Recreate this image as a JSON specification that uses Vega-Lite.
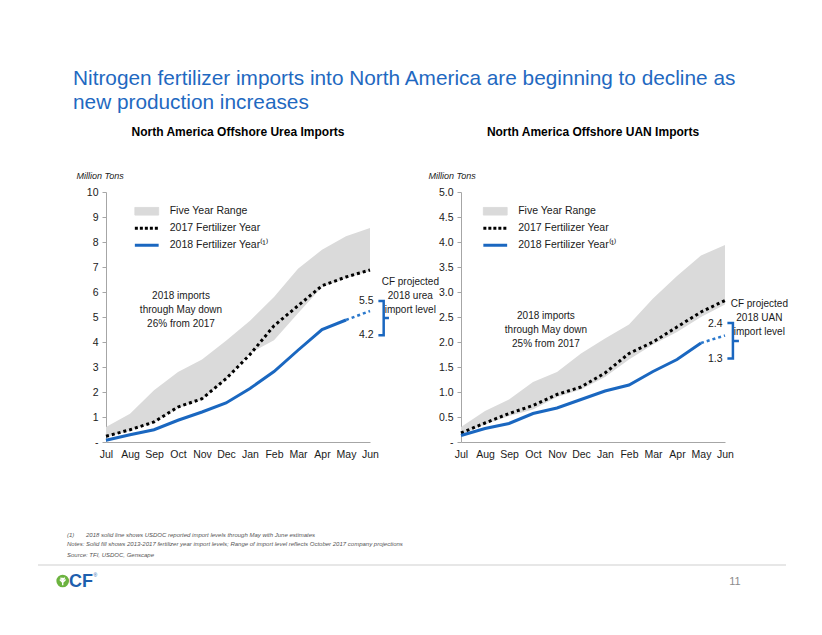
{
  "$schema": "https://vega.github.io/schema/vega-lite/v6.json",
  "background": "white",
  "padding": {"left": 37, "top": 68, "right": 5, "bottom": 5},
  "config": {
    "font": "Liberation Sans, sans-serif",
    "view": {"stroke": null},
    "axis": {"grid": false, "domainColor": "#a6a6a6", "tickColor": "#a6a6a6", "labelColor": "#1a1a1a", "labelFontSize": 10.5}
  },
  "title": {
    "text": ["Nitrogen fertilizer imports into North America are beginning to decline as", "new production increases"],
    "anchor": "start", "frame": "group", "dx": -33, "offset": 12,
    "font": "Liberation Sans, sans-serif", "fontSize": 20.8, "fontWeight": "normal", "color": "#1f69c1", "lineHeight": 24
  },
  "columns": 2,
  "spacing": {"row": 83, "column": 91},
  "bounds": "flush",
  "resolve": {"scale": {"x": "independent", "y": "independent", "color": "independent"}, "legend": {"color": "independent"}},
  "concat": [
    {
      "width": 264, "height": 250,
      "title": {"text": "North America Offshore Urea Imports", "frame": "group", "anchor": "middle", "offset": 32, "fontSize": 12, "fontWeight": "bold", "color": "#000000"},
      "encoding": {
        "x": {"field": "m", "type": "quantitative", "scale": {"domain": [0, 11], "nice": false, "zero": false},
          "axis": {"values": [0,1,2,3,4,5,6,7,8,9,10,11], "labelExpr": "['Jul','Aug','Sep','Oct','Nov','Dec','Jan','Feb','Mar','Apr','May','Jun'][datum.value]", "ticks": false, "labelPadding": 7, "title": null, "labelFlush": false, "labelOverlap": false}},
        "y": {"field": "v", "type": "quantitative", "scale": {"domain": [0, 10], "nice": false},
          "axis": {"values": [0,1,2,3,4,5,6,7,8,9,10], "labelExpr": "datum.value == 0 ? '-' : datum.label", "tickSize": 4, "labelPadding": 4, "title": "Million Tons", "titleAngle": 0, "titleAlign": "left", "titleBaseline": "middle", "titleX": -30, "titleY": -17, "titleFontSize": 9, "titleFontStyle": "italic", "titleFontWeight": "normal", "titleColor": "#1a1a1a"}}
      },
      "layer": [
        {
          "data": {"values": [
            {"m": 0, "v": 0.6, "lo": 0.2}, {"m": 1, "v": 1.13, "lo": 0.45}, {"m": 2, "v": 2.07, "lo": 0.78},
            {"m": 3, "v": 2.8, "lo": 1.35}, {"m": 4, "v": 3.3, "lo": 1.7}, {"m": 5, "v": 4.05, "lo": 2.5},
            {"m": 6, "v": 4.85, "lo": 3.55}, {"m": 7, "v": 5.8, "lo": 4.07}, {"m": 8, "v": 6.93, "lo": 5.15},
            {"m": 9, "v": 7.69, "lo": 6.2}, {"m": 10, "v": 8.23, "lo": 6.55}, {"m": 11, "v": 8.56, "lo": 6.85}
          ]},
          "mark": {"type": "area"},
          "encoding": {
            "y2": {"field": "lo"},
            "color": {"datum": "Five Year Range", "type": "nominal",
              "scale": {"domain": ["Five Year Range", "2017 Fertilizer Year", "2018 Fertilizer Year⁽¹⁾"], "range": ["#dadada", "#000000", "#1a67c0"]},
              "legend": {"orient": "none", "legendX": 35.5, "legendY": 14, "title": null, "padding": 0, "rowPadding": 4, "symbolSize": 289, "labelOffset": 17.7, "labelFontSize": 10.5, "labelColor": "#1a1a1a",
                "symbolType": "M-1.4,0H1.4",
                "encode": {"symbols": {"update": {
                  "shape": {"signal": "datum.value == 'Five Year Range' ? 'M-1.4,-0.45H1.4V0.45H-1.4Z' : 'M-1.4,0H1.4'"},
                  "fill": {"signal": "datum.value == 'Five Year Range' ? '#dadada' : 'transparent'"},
                  "stroke": {"signal": "datum.value == 'Five Year Range' ? '#9a9a9a' : datum.value == '2017 Fertilizer Year' ? '#000000' : '#1a67c0'"},
                  "strokeWidth": {"signal": "datum.value == 'Five Year Range' ? 1 : 3"},
                  "strokeDash": {"signal": "datum.value == '2017 Fertilizer Year' ? [3, 2] : [1, 0]"},
                  "opacity": {"value": 1}
                }}}}
            }
          }
        },
        {
          "data": {"values": [
            {"m": 0, "v": 0.23}, {"m": 1, "v": 0.49}, {"m": 2, "v": 0.8}, {"m": 3, "v": 1.4}, {"m": 4, "v": 1.73}, {"m": 5, "v": 2.53},
            {"m": 6, "v": 3.5}, {"m": 7, "v": 4.65}, {"m": 8, "v": 5.45}, {"m": 9, "v": 6.25}, {"m": 10, "v": 6.6}, {"m": 11, "v": 6.88}
          ]},
          "mark": {"type": "line", "strokeWidth": 3, "strokeDash": [3, 3]},
          "encoding": {"color": {"datum": "2017 Fertilizer Year", "type": "nominal"}}
        },
        {
          "data": {"values": [
            {"m": 0, "v": 0.07}, {"m": 1, "v": 0.29}, {"m": 2, "v": 0.49}, {"m": 3, "v": 0.87}, {"m": 4, "v": 1.2}, {"m": 5, "v": 1.56},
            {"m": 6, "v": 2.14}, {"m": 7, "v": 2.82}, {"m": 8, "v": 3.67}, {"m": 9, "v": 4.5}, {"m": 10, "v": 4.88}
          ]},
          "mark": {"type": "line", "strokeWidth": 3},
          "encoding": {"color": {"datum": "2018 Fertilizer Year⁽¹⁾", "type": "nominal"}}
        },
        {
          "data": {"values": [{"m": 10, "v": 4.88}, {"m": 11, "v": 5.24}]},
          "mark": {"type": "line", "strokeWidth": 2.5, "strokeDash": [3, 3], "color": "#2a78cc"},
          "encoding": {}
        },
        {
          "data": {"values": [
            {"m": 11.35, "v": 5.64, "o": 1}, {"m": 11.57, "v": 5.64, "o": 2}, {"m": 11.57, "v": 4.96, "o": 3},
            {"m": 11.79, "v": 4.96, "o": 4}, {"m": 11.57, "v": 4.96, "o": 5}, {"m": 11.57, "v": 4.27, "o": 6}, {"m": 11.35, "v": 4.27, "o": 7}
          ]},
          "mark": {"type": "line", "strokeWidth": 2.5, "color": "#1a67c0", "strokeJoin": "miter"},
          "encoding": {"order": {"field": "o", "type": "quantitative"}}
        },
        {
          "data": {"values": [{"m": 11.15, "v": 5.64, "t": "5.5"}, {"m": 11.15, "v": 4.27, "t": "4.2"}]},
          "mark": {"type": "text", "align": "right", "baseline": "middle", "fontSize": 10.5, "color": "#1a1a1a"},
          "encoding": {"text": {"field": "t"}}
        },
        {
          "data": {"values": [
            {"m": 3.125, "v": 6.05, "t": "2018 imports\nthrough May down\n26% from 2017"},
            {"m": 12.68, "v": 6.6, "t": "CF projected\n2018 urea\nimport level"}
          ]},
          "mark": {"type": "text", "align": "center", "baseline": "top", "fontSize": 10, "lineHeight": 14, "lineBreak": "\n", "color": "#1a1a1a"},
          "encoding": {"text": {"field": "t"}}
        }
      ]
    },
    {
      "width": 264, "height": 250,
      "title": {"text": "North America Offshore UAN Imports", "frame": "group", "anchor": "middle", "offset": 32, "fontSize": 12, "fontWeight": "bold", "color": "#000000"},
      "encoding": {
        "x": {"field": "m", "type": "quantitative", "scale": {"domain": [0, 11], "nice": false, "zero": false},
          "axis": {"values": [0,1,2,3,4,5,6,7,8,9,10,11], "labelExpr": "['Jul','Aug','Sep','Oct','Nov','Dec','Jan','Feb','Mar','Apr','May','Jun'][datum.value]", "ticks": false, "labelPadding": 7, "title": null, "labelFlush": false, "labelOverlap": false}},
        "y": {"field": "v", "type": "quantitative", "scale": {"domain": [0, 5], "nice": false},
          "axis": {"values": [0,0.5,1,1.5,2,2.5,3,3.5,4,4.5,5], "format": ".1f", "labelExpr": "datum.value == 0 ? '-' : datum.label", "tickSize": 4, "labelPadding": 4, "title": "Million Tons", "titleAngle": 0, "titleAlign": "left", "titleBaseline": "middle", "titleX": -33, "titleY": -17, "titleFontSize": 9, "titleFontStyle": "italic", "titleFontWeight": "normal", "titleColor": "#1a1a1a"}}
      },
      "layer": [
        {
          "data": {"values": [
            {"m": 0, "v": 0.3, "lo": 0.15}, {"m": 1, "v": 0.62, "lo": 0.35}, {"m": 2, "v": 0.85, "lo": 0.52},
            {"m": 3, "v": 1.2, "lo": 0.65}, {"m": 4, "v": 1.4, "lo": 0.9}, {"m": 5, "v": 1.77, "lo": 1.05},
            {"m": 6, "v": 2.07, "lo": 1.3}, {"m": 7, "v": 2.35, "lo": 1.65}, {"m": 8, "v": 2.87, "lo": 1.95},
            {"m": 9, "v": 3.32, "lo": 2.2}, {"m": 10, "v": 3.73, "lo": 2.5}, {"m": 11, "v": 3.94, "lo": 2.75}
          ]},
          "mark": {"type": "area"},
          "encoding": {
            "y2": {"field": "lo"},
            "color": {"datum": "Five Year Range", "type": "nominal",
              "scale": {"domain": ["Five Year Range", "2017 Fertilizer Year", "2018 Fertilizer Year⁽¹⁾"], "range": ["#dadada", "#000000", "#1a67c0"]},
              "legend": {"orient": "none", "legendX": 29, "legendY": 14, "title": null, "padding": 0, "rowPadding": 4, "symbolSize": 289, "labelOffset": 17.7, "labelFontSize": 10.5, "labelColor": "#1a1a1a",
                "symbolType": "M-1.4,0H1.4",
                "encode": {"symbols": {"update": {
                  "shape": {"signal": "datum.value == 'Five Year Range' ? 'M-1.4,-0.45H1.4V0.45H-1.4Z' : 'M-1.4,0H1.4'"},
                  "fill": {"signal": "datum.value == 'Five Year Range' ? '#dadada' : 'transparent'"},
                  "stroke": {"signal": "datum.value == 'Five Year Range' ? '#9a9a9a' : datum.value == '2017 Fertilizer Year' ? '#000000' : '#1a67c0'"},
                  "strokeWidth": {"signal": "datum.value == 'Five Year Range' ? 1 : 3"},
                  "strokeDash": {"signal": "datum.value == '2017 Fertilizer Year' ? [3, 2] : [1, 0]"},
                  "opacity": {"value": 1}
                }}}}
            }
          }
        },
        {
          "data": {"values": [
            {"m": 0, "v": 0.18}, {"m": 1, "v": 0.38}, {"m": 2, "v": 0.57}, {"m": 3, "v": 0.73}, {"m": 4, "v": 0.95}, {"m": 5, "v": 1.1},
            {"m": 6, "v": 1.38}, {"m": 7, "v": 1.77}, {"m": 8, "v": 2.0}, {"m": 9, "v": 2.3}, {"m": 10, "v": 2.6}, {"m": 11, "v": 2.83}
          ]},
          "mark": {"type": "line", "strokeWidth": 3, "strokeDash": [3, 3]},
          "encoding": {"color": {"datum": "2017 Fertilizer Year", "type": "nominal"}}
        },
        {
          "data": {"values": [
            {"m": 0, "v": 0.13}, {"m": 1, "v": 0.27}, {"m": 2, "v": 0.37}, {"m": 3, "v": 0.57}, {"m": 4, "v": 0.68}, {"m": 5, "v": 0.85},
            {"m": 6, "v": 1.02}, {"m": 7, "v": 1.14}, {"m": 8, "v": 1.41}, {"m": 9, "v": 1.65}, {"m": 10, "v": 1.98}
          ]},
          "mark": {"type": "line", "strokeWidth": 3},
          "encoding": {"color": {"datum": "2018 Fertilizer Year⁽¹⁾", "type": "nominal"}}
        },
        {
          "data": {"values": [{"m": 10, "v": 1.98}, {"m": 11, "v": 2.13}]},
          "mark": {"type": "line", "strokeWidth": 2.5, "strokeDash": [3, 3], "color": "#2a78cc"},
          "encoding": {}
        },
        {
          "data": {"values": [
            {"m": 11.1, "v": 2.38, "o": 1}, {"m": 11.33, "v": 2.38, "o": 2}, {"m": 11.33, "v": 2.02, "o": 3},
            {"m": 11.58, "v": 2.02, "o": 4}, {"m": 11.33, "v": 2.02, "o": 5}, {"m": 11.33, "v": 1.67, "o": 6}, {"m": 11.1, "v": 1.67, "o": 7}
          ]},
          "mark": {"type": "line", "strokeWidth": 2.5, "color": "#1a67c0", "strokeJoin": "miter"},
          "encoding": {"order": {"field": "o", "type": "quantitative"}}
        },
        {
          "data": {"values": [{"m": 10.9, "v": 2.36, "t": "2.4"}, {"m": 10.9, "v": 1.67, "t": "1.3"}]},
          "mark": {"type": "text", "align": "right", "baseline": "middle", "fontSize": 10.5, "color": "#1a1a1a"},
          "encoding": {"text": {"field": "t"}}
        },
        {
          "data": {"values": [
            {"m": 3.54, "v": 2.63, "t": "2018 imports\nthrough May down\n25% from 2017"},
            {"m": 12.43, "v": 2.86, "t": "CF projected\n2018 UAN\nimport level"}
          ]},
          "mark": {"type": "text", "align": "center", "baseline": "top", "fontSize": 10, "lineHeight": 14, "lineBreak": "\n", "color": "#1a1a1a"},
          "encoding": {"text": {"field": "t"}}
        }
      ]
    },
    {
      "width": 264, "height": 75,
      "data": {"values": [
        {"kind": "note", "x": -39, "y": 9.7, "t": "(1)"},
        {"kind": "note", "x": -20, "y": 9.7, "t": "2018 solid line shows USDOC reported import levels through May with June estimates"},
        {"kind": "note", "x": -39, "y": 19.2, "t": "Notes: Solid fill shows 2013-2017 fertilizer year import levels; Range of import level reflects October 2017 company projections"},
        {"kind": "note", "x": -39, "y": 29.8, "t": "Source: TFI, USDOC, Genscape"},
        {"kind": "rule", "x": -68, "x2": 680, "y": 40},
        {"kind": "logo", "x": -43.3, "y": 56},
        {"kind": "brand", "x": -37, "y": 56.5, "t": "CF"},
        {"kind": "reg", "x": -12.5, "y": 50, "t": "®"},
        {"kind": "page", "x": 629, "y": 57, "t": "11"}
      ]},
      "encoding": {
        "x": {"field": "x", "type": "quantitative", "scale": {"domain": [0, 264], "nice": false, "zero": false}, "axis": null},
        "y": {"field": "y", "type": "quantitative", "scale": {"domain": [0, 75], "nice": false, "zero": false, "reverse": true}, "axis": null}
      },
      "layer": [
        {
          "transform": [{"filter": "datum.kind == 'note'"}],
          "mark": {"type": "text", "align": "left", "baseline": "middle", "fontSize": 6.0, "fontStyle": "italic", "color": "#555555"},
          "encoding": {"text": {"field": "t"}}
        },
        {
          "transform": [{"filter": "datum.kind == 'rule'"}],
          "mark": {"type": "rule", "color": "#cfcfcf", "strokeWidth": 1},
          "encoding": {"x2": {"field": "x2"}}
        },
        {
          "transform": [{"filter": "datum.kind == 'logo'"}],
          "mark": {"type": "point", "shape": "circle", "filled": true, "size": 160, "color": "#6cb33f", "opacity": 1},
          "encoding": {}
        },
        {
          "transform": [{"filter": "datum.kind == 'logo'"}],
          "mark": {"type": "point", "shape": "M0,0.9L0,-0.7M0,0.3L-0.6,-0.3M0,0.3L0.6,-0.3M0,-0.15L-0.45,-0.7M0,-0.15L0.45,-0.7", "filled": false, "size": 90, "color": "#ffffff", "strokeWidth": 1.4, "opacity": 1},
          "encoding": {}
        },
        {
          "transform": [{"filter": "datum.kind == 'brand'"}],
          "mark": {"type": "text", "align": "left", "baseline": "middle", "fontSize": 18, "fontWeight": "bold", "color": "#1d5fae"},
          "encoding": {"text": {"field": "t"}}
        },
        {
          "transform": [{"filter": "datum.kind == 'reg'"}],
          "mark": {"type": "text", "align": "left", "baseline": "middle", "fontSize": 5, "color": "#1d5fae"},
          "encoding": {"text": {"field": "t"}}
        },
        {
          "transform": [{"filter": "datum.kind == 'page'"}],
          "mark": {"type": "text", "align": "center", "baseline": "middle", "fontSize": 11, "color": "#8c8c8c"},
          "encoding": {"text": {"field": "t"}}
        }
      ]
    }
  ]
}
